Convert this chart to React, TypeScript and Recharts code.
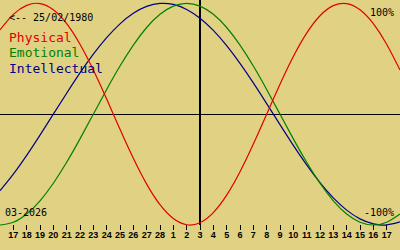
import React from 'react';
import { LineChart, Line, XAxis, YAxis, ReferenceLine } from 'recharts';

// one entry per day, 16 Feb .. 18 Mar 2026 (first and last sit on the chart edges)
const days = [
  '16', '17', '18', '19', '20', '21', '22', '23', '24', '25', '26', '27', '28',
  '1', '2', '3', '4', '5', '6', '7', '8', '9', '10', '11', '12', '13', '14', '15', '16', '17', '18',
];

const physical = [
  0.76, 0.9, 0.982, 0.998, 0.942, 0.817, 0.631, 0.398, 0.136, -0.136, -0.398, -0.631, -0.817,
  -0.942, -0.998, -0.979, -0.888, -0.731, -0.52, -0.27, 0, 0.27, 0.52, 0.731, 0.888, 0.979, 0.998, 0.942, 0.817, 0.631, 0.398,
];

const emotional = [
  -1, -0.975, -0.901, -0.782, -0.623, -0.434, -0.223, 0, 0.223, 0.434, 0.623, 0.782, 0.901,
  0.975, 1, 0.975, 0.901, 0.782, 0.623, 0.434, 0.223, 0, -0.223, -0.434, -0.623, -0.782, -0.901, -0.975, -1, -0.975, -0.901,
];

const intellectual = [
  -0.69, -0.541, -0.372, -0.189, 0, 0.189, 0.372, 0.541, 0.69, 0.815, 0.91, 0.972, 0.999,
  0.99, 0.945, 0.866, 0.756, 0.618, 0.458, 0.282, 0.095, -0.095, -0.282, -0.458, -0.618, -0.756, -0.866, -0.945, -0.99, -0.999, -0.972,
];

const todayIndex = 15; // 3 March
const tickIdx = days.map((_, i) => i).slice(1, days.length - 1);

const data = days.map((d, i) => ({
  i,
  day: d,
  physical: physical[i],
  emotional: emotional[i],
  intellectual: intellectual[i],
}));

const BG = '#e0d282';
const RED = '#e00000';
const GREEN = '#008000';
const BLUE = '#000088';
const MONO = '"DejaVu Sans Mono", monospace';

export default function App() {
  return (
    <div style={{ position: 'absolute', left: 0, top: 0, width: 400, height: 250, background: BG }}>
      <LineChart width={400} height={250} data={data} margin={{ top: 0, right: 0, bottom: 0, left: 0 }}>
        <XAxis
          dataKey="i"
          type="number"
          domain={[0, 30]}
          ticks={tickIdx}
          interval={0}
          tickFormatter={(v: number) => days[v]}
          axisLine={false}
          tickSize={5}
          tickLine={{ stroke: '#000', shapeRendering: 'crispEdges' }}
          tick={{ fill: '#000', fontSize: 9, fontWeight: 'bold', fontFamily: '"Liberation Sans", Arial, sans-serif' }}
          height={25}
        />
        <YAxis hide domain={[-1, 1.03]} />
        <ReferenceLine y={0} stroke="#000" strokeWidth={1} shapeRendering="crispEdges" />
        <ReferenceLine x={todayIndex} stroke="#000" strokeWidth={1.5} shapeRendering="crispEdges" />
        <Line type="natural" dataKey="intellectual" stroke={BLUE} strokeWidth={1.2} dot={false} activeDot={false} isAnimationActive={false} />
        <Line type="natural" dataKey="emotional" stroke={GREEN} strokeWidth={1.2} dot={false} activeDot={false} isAnimationActive={false} />
        <Line type="natural" dataKey="physical" stroke={RED} strokeWidth={1.2} dot={false} activeDot={false} isAnimationActive={false} />
      </LineChart>
      <svg width={400} height={250} style={{ position: 'absolute', left: 0, top: 0, pointerEvents: 'none' }}>
        <text x={9} y={21} fontFamily={MONO} fontSize={10} fill="#000">{'<-- 25/02/1980'}</text>
        <text x={9} y={42} fontFamily={MONO} fontSize={13} fill={RED}>Physical</text>
        <text x={9} y={57} fontFamily={MONO} fontSize={13} fill={GREEN}>Emotional</text>
        <text x={9} y={73} fontFamily={MONO} fontSize={13} fill={BLUE}>Intellectual</text>
        <text x={394} y={16} fontFamily={MONO} fontSize={10} fill="#000" textAnchor="end">100%</text>
        <text x={394} y={216} fontFamily={MONO} fontSize={10} fill="#000" textAnchor="end">-100%</text>
        <text x={5} y={216} fontFamily={MONO} fontSize={10} fill="#000">03-2026</text>
      </svg>
    </div>
  );
}
